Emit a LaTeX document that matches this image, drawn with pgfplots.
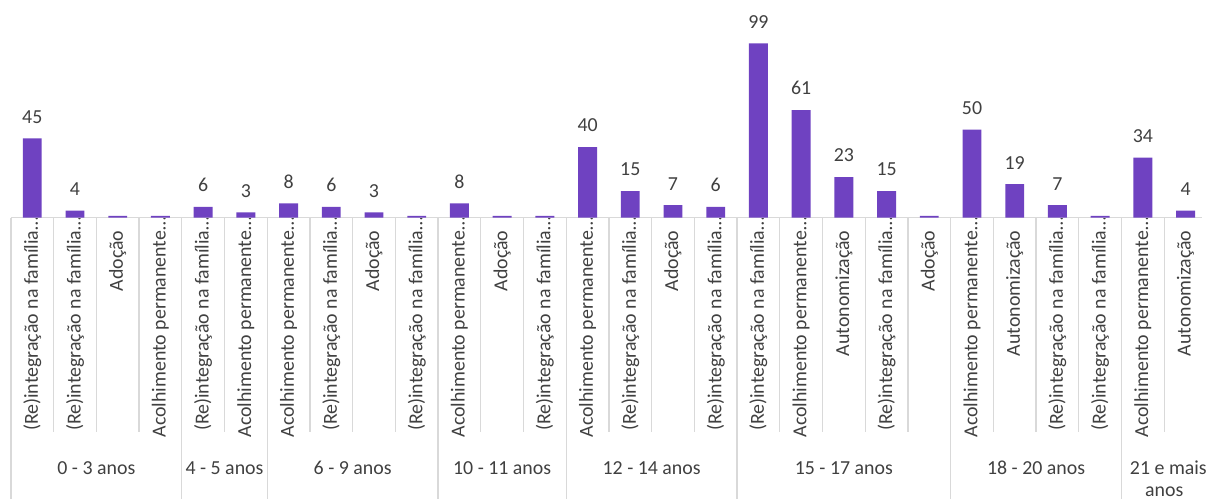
\documentclass[border=0pt]{standalone}
\usepackage{fontspec}
\setmainfont{Carlito}
\usepackage{pgfplots}
\usepackage{pgfplotstable}
\pgfplotsset{compat=1.18}
\definecolor{barc}{HTML}{6F42C1}
\definecolor{txt}{HTML}{404040}
\definecolor{grd}{HTML}{D9D9D9}
\newcommand{\RI}{(Re)integração na família\rlap{\textellipsis}}
\newcommand{\AP}{Acolhimento permanente\rlap{\textellipsis}}
\pgfplotstableread{
x y
0 45
1 4
4 6
5 3
6 8
7 6
8 3
10 8
13 40
14 15
15 7
16 6
17 99
18 61
19 23
20 15
22 50
23 19
24 7
26 34
27 4
}\labeled
\pgfplotstableread{
x y
2 1
3 1
9 1
11 1
12 1
21 1
25 1
}\unlabeled
\begin{document}
\begin{tikzpicture}[font=\fontsize{20pt}{24pt}\selectfont]
\path (0,0) rectangle (1210pt,502pt);
\begin{axis}[
  at={(11pt,283pt)}, anchor=south west,
  scale only axis, width=1199pt, height=212.6pt,
  xmin=-0.5, xmax=27.384, ymin=0, ymax=120,
  axis line style={draw=none},
  ytick=\empty,
  xtick={0,...,27},
  xticklabels={\RI,\RI,Adoção,\AP,\RI,\AP,\AP,\RI,Adoção,\RI,\AP,Adoção,\RI,\AP,\RI,Adoção,\RI,\RI,\AP,Autonomização,\RI,Adoção,\AP,Autonomização,\RI,\RI,\AP,Autonomização},
  major tick length=0pt,
  xticklabel style={rotate=90, anchor=east, inner sep=0pt, inner xsep=13pt, text=txt, font=\fontsize{20pt}{24pt}\selectfont},
  ybar, bar width=19pt,
  clip=false,
  /pgf/number format/assume math mode=true,
]
\pgfplotsinvokeforeach{-0.5,0.5,...,26.5}{\draw[grd, line width=1.2pt] (axis cs:#1,0) -- ++(0pt,-216pt);}
\pgfplotsinvokeforeach{-0.5,3.5,5.5,9.5,12.5,16.5,21.5,25.5}{\draw[grd, line width=1.2pt] (axis cs:#1,0) -- ++(0pt,-283pt);}
\draw[grd, line width=1.5pt] (axis cs:-0.5,0) -- (axis cs:27.384,0);
\addplot[fill=barc, draw=none, bar shift=0pt,
  nodes near coords,
  every node near coord/.append style={anchor=south, inner sep=0pt, yshift=15pt, text=txt, font=\fontsize{20pt}{24pt}\selectfont}]
  table[x=x, y=y] {\labeled};
\addplot[fill=barc, draw=none, bar shift=0pt] table[x=x, y=y] {\unlabeled};
\node[anchor=base, text=txt, yshift=-259pt] at (axis cs:1.5,0) {0 - 3 anos};
\node[anchor=base, text=txt, yshift=-259pt] at (axis cs:4.5,0) {4 - 5 anos};
\node[anchor=base, text=txt, yshift=-259pt] at (axis cs:7.5,0) {6 - 9 anos};
\node[anchor=base, text=txt, yshift=-259pt] at (axis cs:11,0) {10 - 11 anos};
\node[anchor=base, text=txt, yshift=-259pt] at (axis cs:14.5,0) {12 - 14 anos};
\node[anchor=base, text=txt, yshift=-259pt] at (axis cs:19,0) {15 - 17 anos};
\node[anchor=base, text=txt, yshift=-259pt] at (axis cs:23.5,0) {18 - 20 anos};
\node[anchor=base west, text=txt, yshift=-259pt, xshift=-38pt] at (axis cs:26.5,0) {21 e mais};
\node[anchor=base, text=txt, yshift=-281pt] at (axis cs:26.5,0) {anos};
\end{axis}
\end{tikzpicture}
\end{document}
